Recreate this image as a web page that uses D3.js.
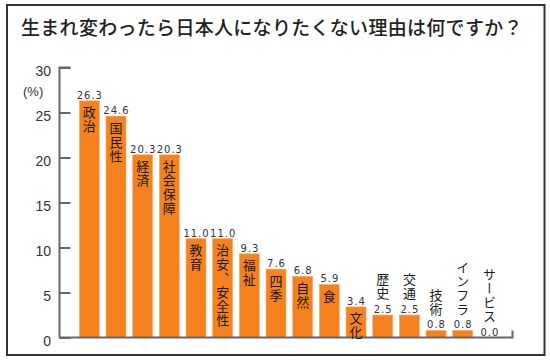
<!DOCTYPE html>
<html><head><meta charset="utf-8">
<script src="https://cdn.jsdelivr.net/npm/d3@7"></script>
<style>
html,body{margin:0;padding:0;background:#fff;}
svg{display:block;}
</style></head>
<body>
<svg id="c" width="550" height="364"></svg>
<script>
const title = "生まれ変わったら日本人になりたくない理由は何ですか？";
const categories = ["政治","国民性","経済","社会保障","教育","治安、安全性","福祉","四季","自然","食","文化","歴史","交通","技術","インフラ","サービス"];
const values = [26.3,24.6,20.3,20.3,11.0,11.0,9.3,7.6,6.8,5.9,3.4,2.5,2.5,0.8,0.8,0.0];
const yTicks = [0,5,10,15,20,25,30];
const unitLabel = "(%)";

const svg = d3.select("#c");
const jp = "'Noto Sans CJK JP','Noto Sans',sans-serif";

// frame
svg.append("rect").attr("x",7).attr("y",5).attr("width",537.5).attr("height",350)
  .attr("fill","#fff").attr("stroke","#333").attr("stroke-width",2);

svg.append("text").attr("x",21).attr("y",35).attr("font-family",jp).attr("font-size",19)
  .attr("letter-spacing",0.3).attr("font-weight",500).attr("fill","#222").text(title);

const y = d3.scaleLinear().domain([0,30]).range([337.5,67.5]);
const x = d3.scaleBand().domain(categories).range([76,76+16*26.67]).paddingInner(0.25).paddingOuter(0.125);

// bars
svg.selectAll("rect.bar").data(values).join("rect").attr("class","bar")
  .attr("x",(d,i)=>x(categories[i])).attr("width",x.bandwidth())
  .attr("y",d=>y(d)).attr("height",d=>y(0)-y(d))
  .attr("fill","#F5821F").attr("stroke","#FBB06A").attr("stroke-width",0.6);

// y axis
const ax = svg.append("g").attr("transform","translate(59.5,0)")
  .call(d3.axisRight(y).tickValues(yTicks).tickSize(11).tickFormat(""));
ax.select(".domain").attr("stroke","#666").attr("stroke-width",2).attr("d","M11,"+y(30)+"H0V"+y(0));
ax.selectAll(".tick line").attr("stroke","#666").attr("stroke-width",2);
svg.selectAll("text.yl").data(yTicks).join("text").attr("class","yl")
  .attr("x",51).attr("y",d=>y(d)+8).attr("text-anchor","end")
  .attr("font-family","'Liberation Sans',Arial,sans-serif").attr("font-size",14).attr("fill","#333")
  .text(d=>d);
svg.append("text").attr("x",23).attr("y",96).attr("font-family","'Liberation Sans',Arial,sans-serif")
  .attr("font-size",13).attr("fill","#333").text(unitLabel);

// baseline
svg.append("path").attr("d",`M59,${y(0)}H512.5V${y(0)-7}`).attr("fill","none")
  .attr("stroke","#666").attr("stroke-width",2);

// value labels
svg.selectAll("text.val").data(values).join("text").attr("class","val")
  .attr("x",(d,i)=>x(categories[i])+x.bandwidth()/2+0.5).attr("y",d=>y(d)-2)
  .attr("text-anchor","middle").attr("font-family","'DejaVu Sans',sans-serif")
  .attr("font-size",10).attr("letter-spacing",1).attr("fill","#333")
  .text(d=>d.toFixed(1));

// category labels (vertical)
svg.selectAll("text.cat").data(values).join("text").attr("class","cat")
  .attr("x",(d,i)=>x(categories[i])+x.bandwidth()/2)
  .attr("y",d=> d>=3 ? y(d)+5 : y(d)-14)
  .attr("text-anchor",d=> d>=3 ? "start" : "end")
  .style("writing-mode","vertical-rl")
  .attr("font-family",jp).attr("font-size",13).attr("letter-spacing",1).attr("fill","#1a1a1a")
  .text((d,i)=>categories[i]);
</script>
</body></html>
